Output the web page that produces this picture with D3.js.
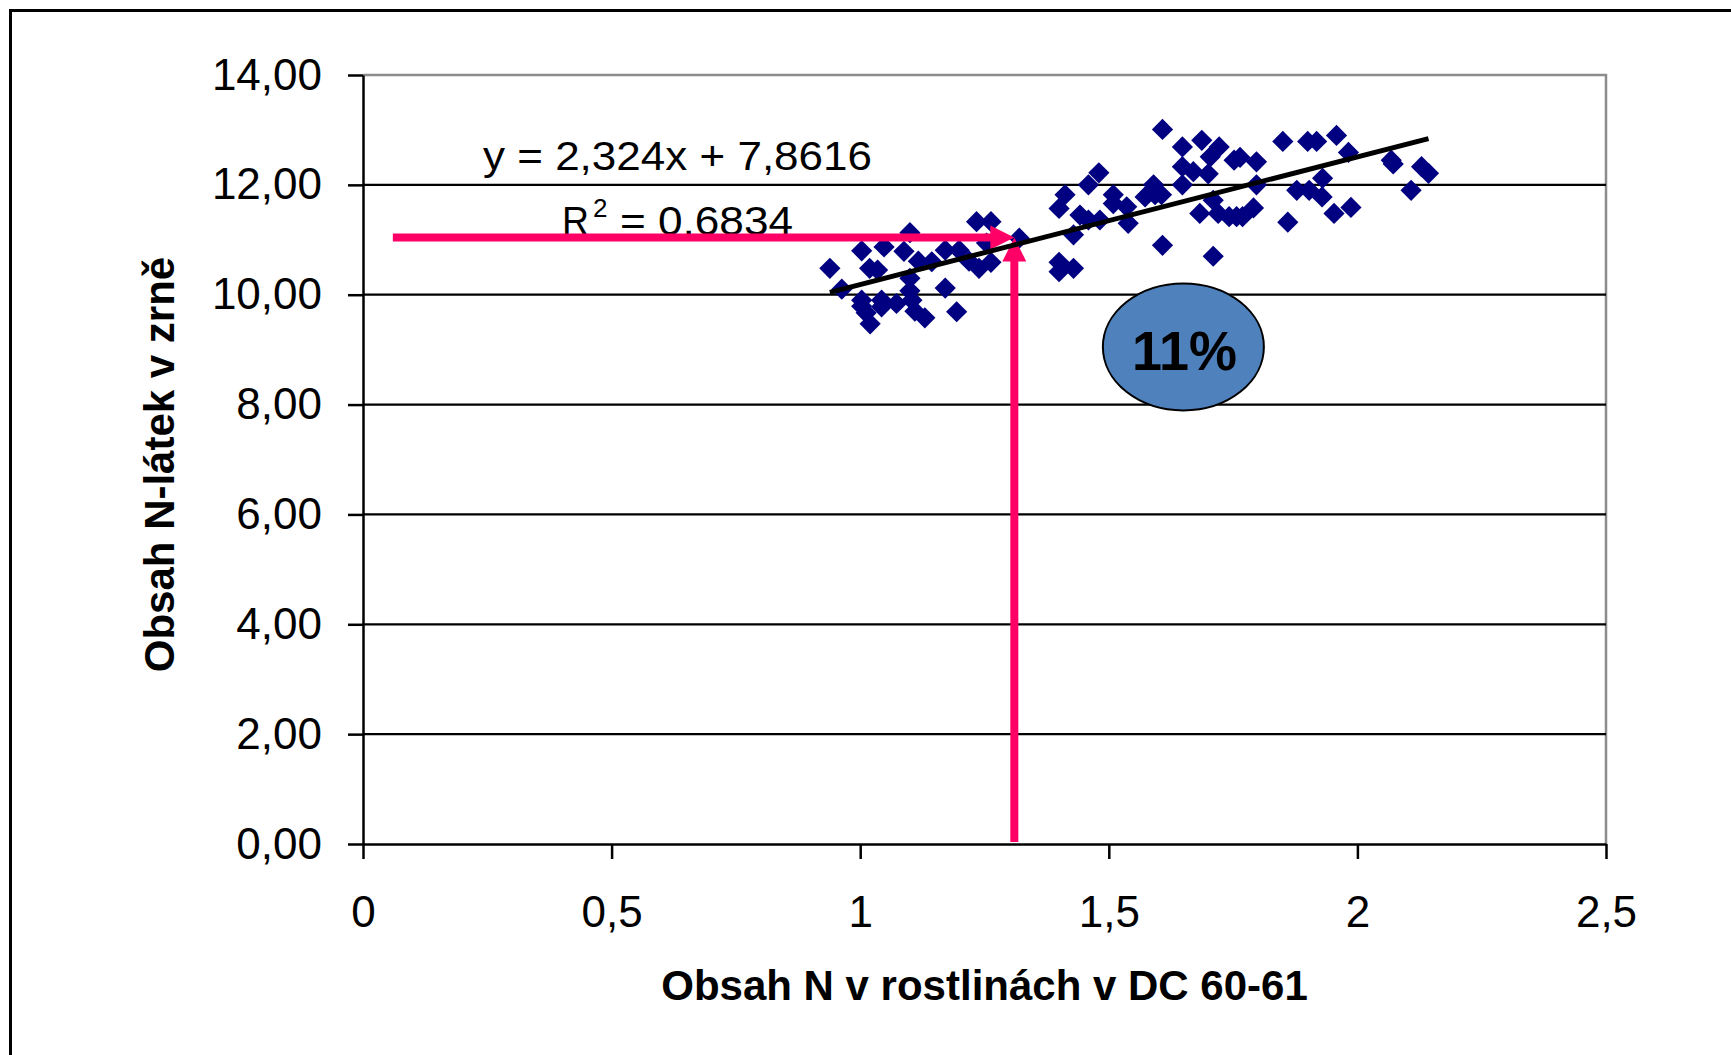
<!DOCTYPE html>
<html><head><meta charset="utf-8">
<script src="https://cdn.jsdelivr.net/npm/d3@7"></script>
<style>html,body{margin:0;padding:0;background:#fff;} svg{display:block;}</style>
</head><body><svg id="chart" width="1731" height="1055"></svg>
<script>
// ---- data ----
const xValues = [0.939,0.963,1.003,1.048,1.100,1.088,1.019,1.035,1.003,1.003,1.012,1.020,1.043,1.043,1.073,1.100,1.100,1.104,1.110,1.130,
  1.117,1.144,1.171,1.199,1.171,1.194,1.234,1.263,1.219,1.239,1.263,1.320,1.254,
  1.400,1.412,1.400,1.400,1.429,1.429,1.442,1.459,1.482,1.459,1.480,1.509,1.509,1.536,1.539,1.590,1.573,1.593,1.606,1.608,
  1.608,1.648,1.687,1.722,1.704,1.648,1.670,1.700,1.648,1.752,1.764,1.797,1.797,1.791,1.710,1.683,1.720,1.742,1.757,1.769,1.710,
  1.850,1.900,1.918,1.958,1.982,1.930,1.878,1.903,1.929,1.953,1.987,1.860,2.068,2.129,2.143,2.108,2.072];
const yValues = [10.48,10.10,10.80,10.87,11.13,10.79,10.48,10.45,9.90,9.79,9.67,9.47,9.90,9.78,9.84,10.30,10.07,9.90,9.70,9.58,
  10.61,10.60,10.81,10.81,10.12,9.69,11.33,11.33,10.61,10.48,10.59,11.03,10.94,
  11.57,11.82,10.59,10.42,10.48,11.09,11.45,11.36,11.36,12.00,12.22,11.82,11.66,11.60,11.30,12.00,11.78,11.82,11.82,10.90,
  13.01,12.69,12.81,12.69,12.51,12.33,12.24,12.20,12.00,12.45,12.50,12.42,12.00,11.58,11.72,11.48,11.48,11.42,11.42,11.42,10.70,
  12.79,12.79,12.79,12.90,12.59,12.12,11.90,11.90,11.78,11.48,11.59,11.32,12.45,12.33,12.21,11.90,12.38];
const xTicks = [0, 0.5, 1, 1.5, 2, 2.5];
const xTickLabels = ["0", "0,5", "1", "1,5", "2", "2,5"];
const yTicks = [0, 2, 4, 6, 8, 10, 12, 14];
const yTickLabels = ["0,00", "2,00", "4,00", "6,00", "8,00", "10,00", "12,00", "14,00"];
const trendSlope = 2.324;
const trendIntercept = 7.8616;
const equationLabel = "y = 2,324x + 7,8616";
const r2Label = "0,6834";
const xTitle = "Obsah N v rostlinách v DC 60-61";
const yTitle = "Obsah N-látek v zrně";
const readX = 1.31;
const readY = 11.04;
const arrowStartX = 0.06;
const bubbleLabel = "11%";
const bubbleX = 1.65;
const bubbleY = 9.05;

// ---- layout ----
const FONT = "'Liberation Sans', Arial, sans-serif";
const svg = d3.select("#chart");
const L = 363, R = 1606, T = 75, B = 844;
const x = d3.scaleLinear().domain([0, 2.5]).range([L, R]);
const y = d3.scaleLinear().domain([0, 14]).range([B, T]);
const PINK = "#ff0066", NAVY = "#000080";

// outer frame
svg.append("path").attr("d", "M10.5,1060 V10.5 H1740")
  .attr("fill", "none").attr("stroke", "#000").attr("stroke-width", 3);

// plot border (gray top/right)
svg.append("path").attr("d", `M${L},${T} H${R} V${B}`)
  .attr("fill", "none").attr("stroke", "#8c8c8c").attr("stroke-width", 2.5);

// gridlines
svg.append("g").selectAll("line").data(yTicks.filter(d => d > 0 && d < 14)).join("line")
  .attr("x1", L).attr("x2", R).attr("y1", d => y(d)).attr("y2", d => y(d))
  .attr("stroke", "#000").attr("stroke-width", 2.2);

// axes
const yAxis = svg.append("g").attr("transform", `translate(${L},0)`)
  .call(d3.axisLeft(y).tickValues(yTicks).tickFormat((d, i) => yTickLabels[i])
    .tickSize(15).tickSizeOuter(0).tickPadding(26));
const xAxis = svg.append("g").attr("transform", `translate(0,${B})`)
  .call(d3.axisBottom(x).tickValues(xTicks).tickFormat((d, i) => xTickLabels[i])
    .tickSize(15).tickSizeOuter(0).tickPadding(37));
[yAxis, xAxis].forEach(g => {
  g.selectAll("path.domain").attr("stroke", "#000").attr("stroke-width", 2.5);
  g.selectAll(".tick line").attr("stroke", "#000").attr("stroke-width", 2.5);
  g.selectAll("text").attr("font-family", FONT).attr("font-size", 44).attr("fill", "#000");
});

// axis titles
svg.append("text").attr("x", (L + R) / 2).attr("y", 1000).attr("text-anchor", "middle")
  .attr("font-family", FONT).attr("font-weight", "bold").attr("font-size", 42).text(xTitle);
svg.append("text").attr("transform", `translate(174,${(T + B) / 2 + 5}) rotate(-90)`)
  .attr("text-anchor", "middle").attr("font-family", FONT).attr("font-weight", "bold")
  .attr("font-size", 42).text(yTitle);

// equation labels
svg.append("text").attr("x", 483).attr("y", 170).attr("font-family", FONT).attr("font-size", 40)
  .attr("textLength", 389).attr("lengthAdjust", "spacingAndGlyphs").text(equationLabel);
svg.append("text").attr("x", 562).attr("y", 235).attr("font-family", FONT).attr("font-size", 40)
  .attr("textLength", 27).attr("lengthAdjust", "spacingAndGlyphs").text("R");
svg.append("text").attr("x", 593).attr("y", 217).attr("font-family", FONT).attr("font-size", 26).text("2");
svg.append("text").attr("x", 620).attr("y", 235).attr("font-family", FONT).attr("font-size", 40)
  .attr("textLength", 173).attr("lengthAdjust", "spacingAndGlyphs").text("= " + r2Label);

// points
const pts = xValues.map((v, i) => [v, yValues[i]]);
const diamond = d3.symbol().type(d3.symbolSquare).size(225);
svg.append("g").selectAll("path").data(pts).join("path")
  .attr("d", diamond)
  .attr("transform", d => `translate(${x(d[0])},${y(d[1])}) rotate(45)`)
  .attr("fill", NAVY);

// arrows
const ah = 24, aw = 12;
const hy = y(readY), vx = x(readX);
svg.append("line").attr("x1", x(arrowStartX)).attr("x2", vx - ah + 2).attr("y1", hy).attr("y2", hy)
  .attr("stroke", PINK).attr("stroke-width", 8);
svg.append("path").attr("d", `M${vx - ah},${hy - aw} L${vx},${hy} L${vx - ah},${hy + aw} Z`).attr("fill", PINK);
svg.append("line").attr("x1", vx).attr("x2", vx).attr("y1", y(0) - 2).attr("y2", hy + ah - 2)
  .attr("stroke", PINK).attr("stroke-width", 8);
svg.append("path").attr("d", `M${vx - aw},${hy + ah} L${vx},${hy} L${vx + aw},${hy + ah} Z`).attr("fill", PINK);

// trend line
const xMin = d3.min(xValues), xMax = d3.max(xValues);
svg.append("path").datum([xMin, xMax])
  .attr("d", d3.line().x(d => x(d)).y(d => y(trendSlope * d + trendIntercept)))
  .attr("stroke", "#000").attr("stroke-width", 5).attr("fill", "none");

// bubble
svg.append("ellipse").attr("cx", x(bubbleX)).attr("cy", y(bubbleY)).attr("rx", 80.5).attr("ry", 63.5)
  .attr("fill", "#4f81bd").attr("stroke", "#000").attr("stroke-width", 2);
svg.append("text").attr("x", x(bubbleX) + 1).attr("y", y(bubbleY) + 23).attr("text-anchor", "middle")
  .attr("font-family", FONT).attr("font-weight", "bold").attr("font-size", 56)
  .attr("textLength", 105).attr("lengthAdjust", "spacingAndGlyphs").text(bubbleLabel);
</script></body></html>
